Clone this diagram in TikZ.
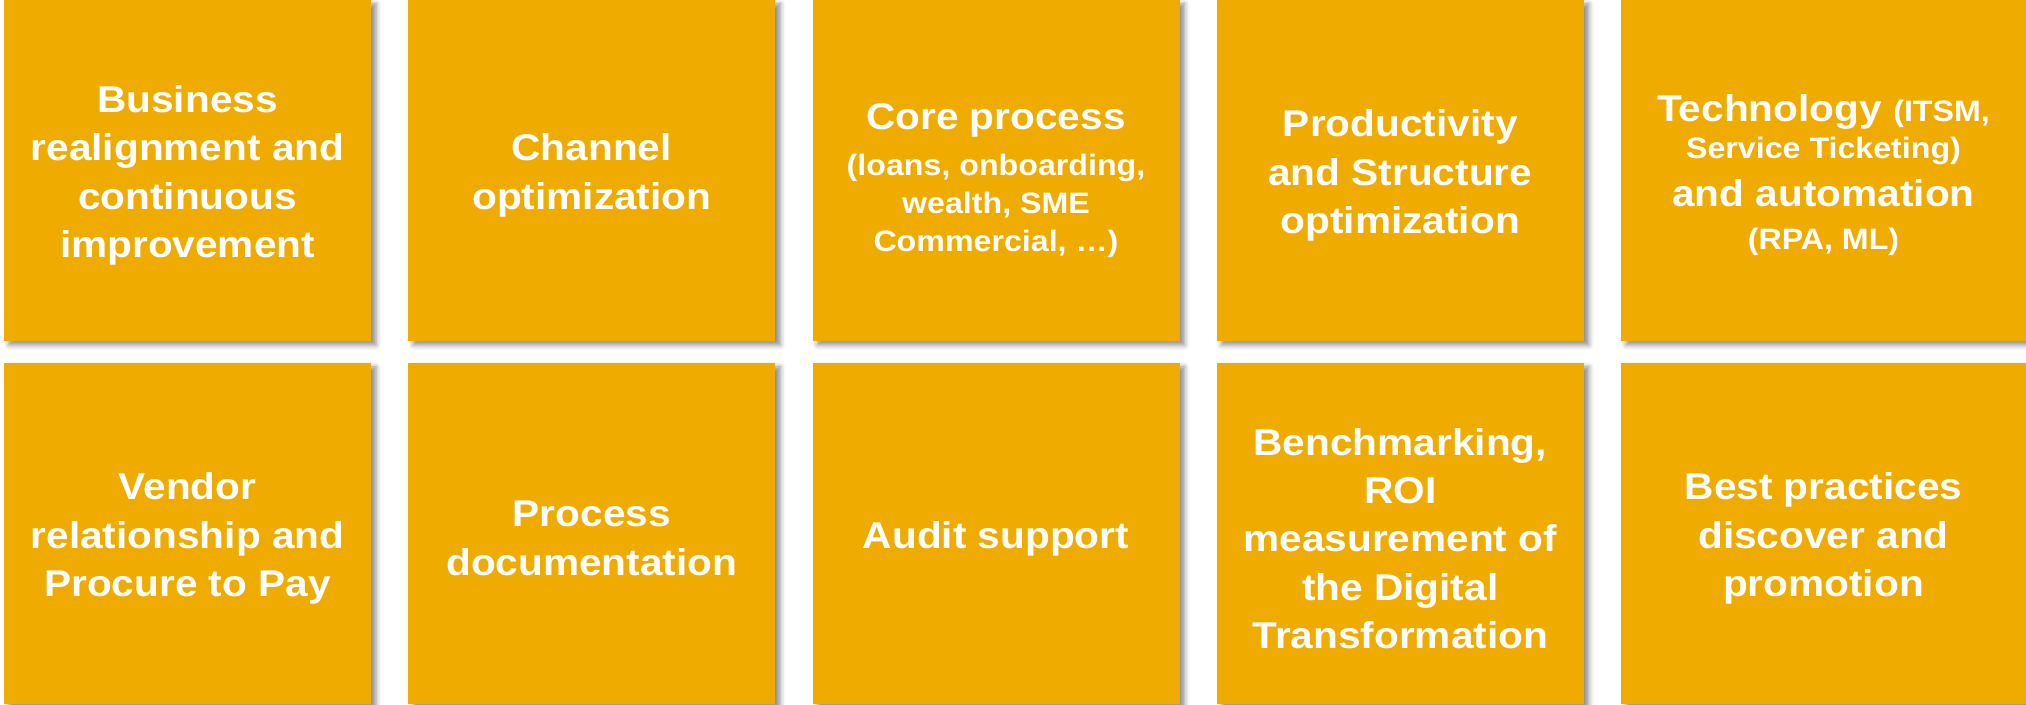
\documentclass[tikz,border=0pt]{standalone}
\usepackage{fontspec}
\setmainfont{Liberation Sans}[FakeStretch=1.09]
\usepackage{tikz}
\usetikzlibrary{positioning, shadows.blur}
\definecolor{tileorange}{RGB}{239,171,0}
\newcommand{\bigtxt}{\fontsize{10.6}{13.75}\selectfont}
\newcommand{\smalltxt}{\fontsize{8.4}{10.4}\selectfont}

\begin{document}
\begin{tikzpicture}[
		tile/.style={fill=tileorange, inner sep=0pt, outer sep=0pt, minimum width=3.67cm, minimum height=3.41cm, blur shadow={shadow xshift=0.05cm, shadow yshift=-0.04cm, shadow blur radius=0.05cm, shadow opacity=45}},
		widetile/.style={tile, minimum width=4.05cm},
		tiletext/.style={text=white, font=\bfseries\bigtxt, align=center, inner sep=0pt, yshift=-0.05cm},
		node distance=0.22cm and 0.3725cm]
		\centering
		\useasboundingbox (0,0) rectangle (20.26,7.05);
		\node[tile, anchor=north west, label={[tiletext]center:{Business\\realignment and\\continuous\\improvement}}] (business) at (0.04,7.05) {};
		\node[tile, right=of business, label={[tiletext]center:{Channel\\optimization}}] (channel) {};
		\node[tile, right=of channel, label={[tiletext, yshift=-0.05cm]center:{Core process\\[-0.7pt]{\smalltxt (loans, onboarding,}\\[-2.9pt]{\smalltxt wealth, SME}\\[-2.9pt]{\smalltxt Commercial, …)}}}] (core) {};
		\node[tile, right=of core, label={[tiletext]center:{Productivity\\and Structure\\optimization}}] (productivity) {};
		\node[widetile, right=of productivity, label={[tiletext]center:{Technology {\smalltxt (ITSM,}\\[-3.3pt]{\smalltxt Service Ticketing)}\\and automation\\[-1.5pt]{\smalltxt (RPA, ML)}}}] (technology) {};
		
		\node[tile, below=of business, label={[tiletext]center:{Vendor\\relationship and\\Procure to Pay}}] (vendor) {};
		\node[tile, below=of channel, label={[tiletext]center:{Process\\documentation}}] (documentation) {};
		\node[tile, below=of core, label={[tiletext]center:{Audit support}}] (audit) {};
		\node[tile, below=of productivity, label={[tiletext]center:{Benchmarking,\\ROI\\measurement of\\the Digital\\Transformation}}] (benchmarking) {};
		\node[widetile, below=of technology, label={[tiletext]center:{Best practices\\discover and\\promotion}}] (practices) {};
		\end{tikzpicture}
\end{document}
